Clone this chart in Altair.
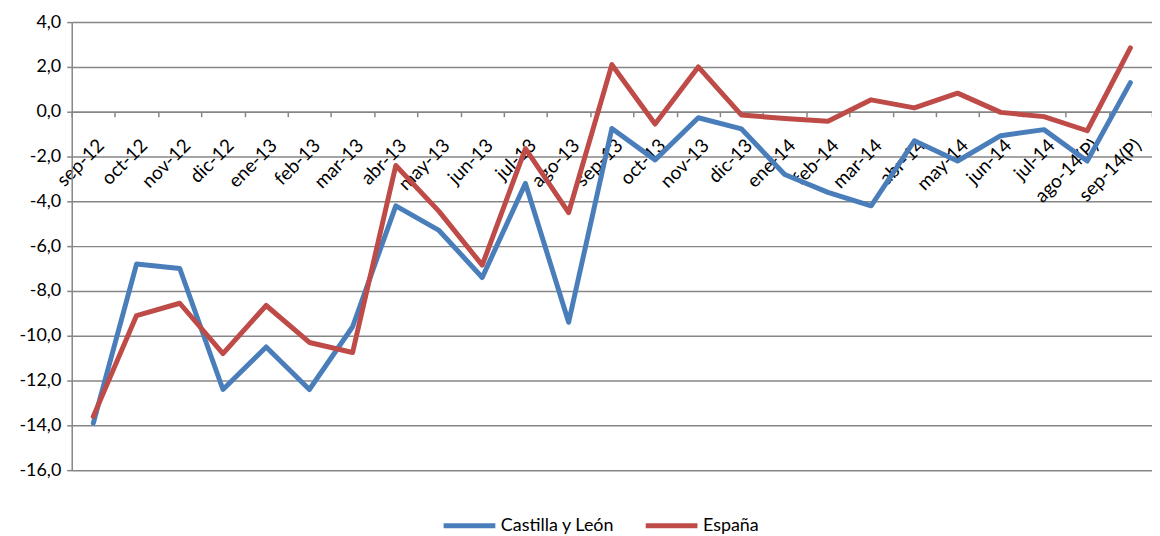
import altair as alt
import pandas as pd

months = ["sep-12", "oct-12", "nov-12", "dic-12", "ene-13", "feb-13", "mar-13",
          "abr-13", "may-13", "jun-13", "jul-13", "ago-13", "sep-13", "oct-13",
          "nov-13", "dic-13", "ene-14", "feb-14", "mar-14", "abr-14", "may-14",
          "jun-14", "jul-14", "ago-14(P)", "sep-14(P)"]

castilla = [-13.9, -6.8, -7.0, -12.4, -10.5, -12.4, -9.6, -4.2, -5.3, -7.4,
            -3.2, -9.4, -0.75, -2.15, -0.27, -0.77, -2.8, -3.6, -4.2, -1.3,
            -2.2, -1.07, -0.8, -2.2, 1.3]

espana = [-13.6, -9.1, -8.55, -10.8, -8.65, -10.3, -10.75, -2.4, -4.45, -6.85,
          -1.65, -4.5, 2.1, -0.55, 2.0, -0.15, -0.3, -0.43, 0.53, 0.17,
          0.83, -0.03, -0.22, -0.85, 2.85]

series_names = ["Castilla y León", "España"]
series_colors = ["#4A7EBB", "#BE4B48"]

rows = []
for m, v in zip(months, castilla):
    rows.append({"mes": m, "valor": v, "serie": series_names[0]})
for m, v in zip(months, espana):
    rows.append({"mes": m, "valor": v, "serie": series_names[1]})
df = pd.DataFrame(rows)

FONT = "Lato"
W, H = 1085, 450

chart = alt.Chart(df).mark_line(strokeWidth=5, strokeCap="round", strokeJoin="round").encode(
    x=alt.X("mes:N", sort=months, title=None,
            scale=alt.Scale(paddingInner=0, paddingOuter=0),
            axis=alt.Axis(labelAngle=-45, labelAlign="right", labelBaseline="top",
                          labelPadding=19, labelOffset=1, offset=-360,
                          tickBand="extent", tickSize=5, tickColor="#868686",
                          domainColor="#868686", domainWidth=1.5, tickWidth=1.5,
                          labelFontSize=19, labelFont=FONT, labelColor="#000000",
                          labelOverlap=False, grid=False)),
    y=alt.Y("valor:Q", title=None,
            scale=alt.Scale(domain=[-16, 4], nice=False, zero=False),
            axis=alt.Axis(values=list(range(-16, 5, 2)),
                          labelExpr="(datum.value < 0 ? '-' : '') + replace(format(abs(datum.value), '.1f'), '.', ',')",
                          grid=True, gridColor="#868686", gridWidth=1.5,
                          domainColor="#868686", domainWidth=1.5,
                          tickColor="#868686", tickWidth=1.5, tickSize=5,
                          labelPadding=6, labelFontSize=18, labelFont=FONT,
                          labelColor="#000000")),
    color=alt.Color("serie:N", scale=alt.Scale(domain=series_names, range=series_colors),
                    legend=alt.Legend(title=None, orient="none", direction="horizontal",
                                      legendX=371, legendY=477,
                                      symbolType="stroke", symbolStrokeWidth=5,
                                      symbolSize=2700, labelFontSize=18, labelFont=FONT,
                                      labelColor="#000000", labelOffset=3,
                                      columnPadding=20)),
).properties(
    width=W, height=H,
    padding={"left": 64, "top": 13, "right": 0, "bottom": 72},
    autosize=alt.AutoSizeParams(type="none"),
).configure_view(stroke=None)

chart.save("out.html", embed_options={"renderer": "svg", "actions": False})
